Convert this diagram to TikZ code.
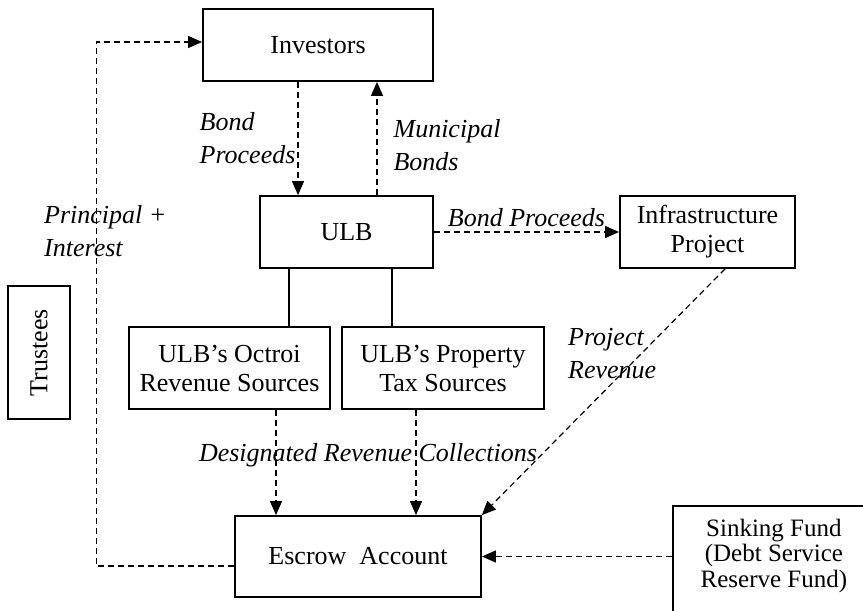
\documentclass[tikz,border=0pt]{standalone}
\usepackage{fontspec}
\setmainfont{Liberation Serif}
\usetikzlibrary{arrows.meta}
\newcommand\boxfont{\fontsize{26}{29}\selectfont}
\newcommand\lblfont{\fontsize{26}{33}\selectfont\itshape}

\begin{document}
\begin{tikzpicture}[x=1pt, y=-1pt,
    box/.style={draw, line width=1.8pt, align=center, font=\boxfont},
    flow/.style={line width=1.2pt, dash pattern=on 6pt off 4pt, -{Triangle[length=14pt,width=12pt]}},
    link/.style={line width=1.1pt},
    lbl/.style={font=\lblfont, align=left, inner sep=2pt}]
  \useasboundingbox (0,0) rectangle (863,611);
  \node[box, minimum width=230, minimum height=72] (inv) at (318,45) {Investors};
  \node[box, minimum width=173, minimum height=72] (ulb) at (346.5,232) {ULB};
  \node[box, minimum width=175, minimum height=72] (infra) at (707.5,232) {Infrastructure\\Project};
  \node[box, minimum width=201, minimum height=82] (oct) at (229.5,368) {ULB’s Octroi\\Revenue Sources};
  \node[box, minimum width=202, minimum height=82] (prop) at (443,368) {ULB’s Property\\Tax Sources};
  \node[box, minimum width=246, minimum height=81] (esc) at (358,556.5) {Escrow\ \ Account};
  \node[box, rotate=90, minimum width=133, minimum height=62] (trust) at (39,352.5) {Trustees};
  \node[box, anchor=north west, minimum width=202, inner xsep=7pt, inner ysep=13pt, text depth=40pt,
    font=\fontsize{25}{25.5}\selectfont] (sink) at (672,505) {Sinking Fund\\(Debt Service\\Reserve Fund)};
  \draw[flow] ([xshift=-20pt]inv.south) -- ([xshift=-20pt]inv.south |- ulb.north)
    node[lbl, midway, left] (bpup) {Bond\\Proceeds};
  \draw[flow] ([xshift=59pt]inv.south |- ulb.north) -- ([xshift=59pt]inv.south)
    node[lbl, pos=0.44, right=14pt] (mb) {Municipal\\Bonds};
  \draw[flow] (ulb) -- (infra) node[lbl, midway, above=3pt] (bpright) {Bond Proceeds};
  \draw[link] ([xshift=-57.5pt]ulb.south) -- ([xshift=-57.5pt]ulb.south |- oct.north);
  \draw[link] ([xshift=45.5pt]ulb.south) -- ([xshift=45.5pt]ulb.south |- prop.north);
  \draw[flow] ([xshift=46.5pt]oct.south) -- ([xshift=46.5pt]oct.south |- esc.north);
  \draw[flow] ([xshift=-27pt]prop.south) -- ([xshift=-27pt]prop.south |- esc.north);
  \node[lbl] (drc) at (368,455) {Designated Revenue Collections};
  \draw[flow] ([xshift=17.5pt]infra.south) -- (esc.north east);
  \node[lbl, anchor=west] (pr) at (566,354) {Project\\Revenue};
  \draw[flow] (sink.west |- esc.east) -- (esc.east);
  \draw[flow] ([yshift=-9.5pt]esc.west) -- ++(-138,0) |- ([yshift=3pt]inv.west);
  \node[lbl, anchor=west] (pi) at (42,231) {Principal +\\Interest};
\end{tikzpicture}
\end{document}
